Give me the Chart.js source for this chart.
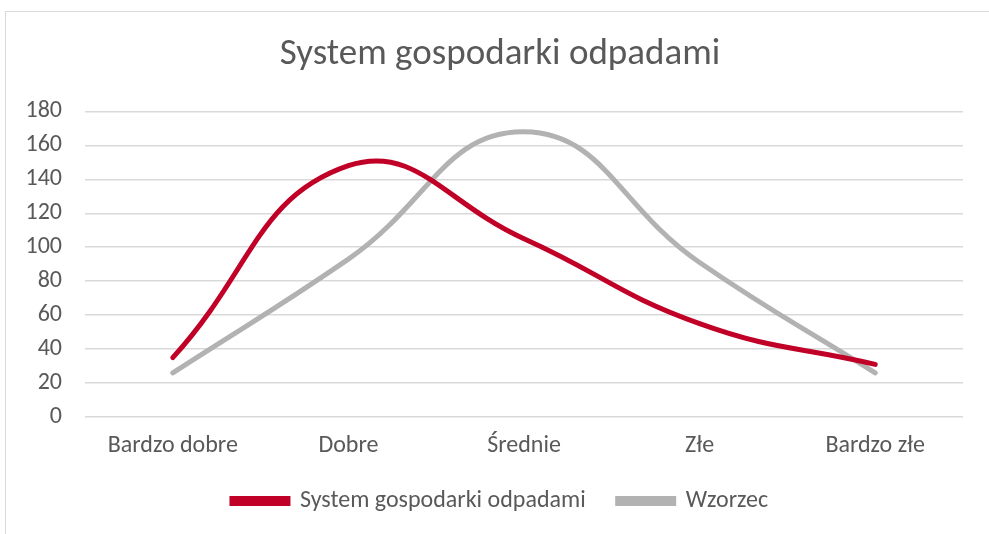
<!DOCTYPE html>
<html>
<head>
<meta charset="utf-8">
<script src="https://cdn.jsdelivr.net/npm/chart.js@4/dist/chart.umd.min.js"></script>
<style>
    html, body { margin: 0; padding: 0; background: #ffffff; }
    #frame {
        position: absolute;
        left: 5px; top: 11px;
        width: 1000px; height: 540px;
        border: 1px solid #d9d9d9;
        box-sizing: border-box;
    }
    #wrap { position: absolute; left: 0; top: 0; width: 989px; height: 534px; }
</style>
</head>
<body>
<div id="frame"></div>
<div id="wrap"><canvas id="chart" width="989" height="534"></canvas></div>
<script>
// Chart data
const categories = ['Bardzo dobre', 'Dobre', 'Średnie', 'Złe', 'Bardzo złe'];
const systemValues = [35, 148, 105, 55, 31];
const wzorzecValues = [26, 93, 168, 91, 26];
const yTicks = [0, 20, 40, 60, 80, 100, 120, 140, 160, 180];

const textColor = '#595959';
const fontFamily = "Carlito, 'Open Sans', sans-serif";

// Force legend height so the plot area keeps its place
const legendHeight = {
    id: 'legendHeight',
    beforeInit(chart) {
        const origFit = chart.legend.fit;
        chart.legend.fit = function() {
            origFit.bind(chart.legend)();
            this.height = 66;
        };
    }
};

// Setup line chart
function setupChart() {
    const ctx = document.getElementById('chart');

    new Chart(ctx, {
        type: 'line',
        data: {
            labels: categories,
            datasets: [{
                label: 'System gospodarki odpadami',
                data: systemValues,
                borderColor: '#c00027',
                backgroundColor: '#c00027',
                borderWidth: 5,
                borderCapStyle: 'round',
                tension: 0.45,
                pointRadius: 0,
                fill: false
            }, {
                label: 'Wzorzec',
                data: wzorzecValues,
                borderColor: '#b2b2b2',
                backgroundColor: '#b2b2b2',
                borderWidth: 5,
                borderCapStyle: 'round',
                tension: 0.45,
                pointRadius: 0,
                fill: false
            }]
        },
        plugins: [legendHeight],
        options: {
            responsive: false,
            animation: false,
            layout: {
                padding: { left: 27, right: 16, top: 0, bottom: 11 }
            },
            plugins: {
                title: {
                    display: true,
                    text: 'System gospodarki odpadami',
                    color: textColor,
                    font: { family: fontFamily, size: 37, weight: 'normal' },
                    padding: { top: 33, bottom: 34 }
                },
                legend: {
                    position: 'bottom',
                    labels: {
                        color: textColor,
                        font: { family: fontFamily, size: 24 },
                        boxWidth: 56,
                        boxHeight: 5,
                        padding: 32
                    }
                },
                tooltip: { enabled: false }
            },
            scales: {
                y: {
                    min: 0,
                    max: 180,
                    afterBuildTicks: function(scale) {
                        scale.ticks = yTicks.map(v => ({ value: v }));
                    },
                    afterFit: function(scale) {
                        scale.width = 58;
                    },
                    border: { display: false },
                    grid: {
                        color: '#d9d9d9',
                        lineWidth: 1.5,
                        drawTicks: false
                    },
                    ticks: {
                        color: textColor,
                        font: { family: fontFamily, size: 24 },
                        padding: 23
                    }
                },
                // empty right axis, only keeps the title and legend centred like the original
                yRight: {
                    position: 'right',
                    display: true,
                    afterFit: function(scale) {
                        scale.width = 10;
                    },
                    border: { display: false },
                    grid: { display: false, drawTicks: false },
                    ticks: { display: false }
                },
                x: {
                    offset: true,
                    afterFit: function(scale) {
                        scale.height = 40;
                    },
                    border: { display: false },
                    grid: { display: false, drawTicks: false },
                    ticks: {
                        color: textColor,
                        font: { family: fontFamily, size: 24 },
                        padding: 15,
                        maxRotation: 0
                    }
                }
            }
        }
    });
}

setupChart();
</script>
</body>
</html>
